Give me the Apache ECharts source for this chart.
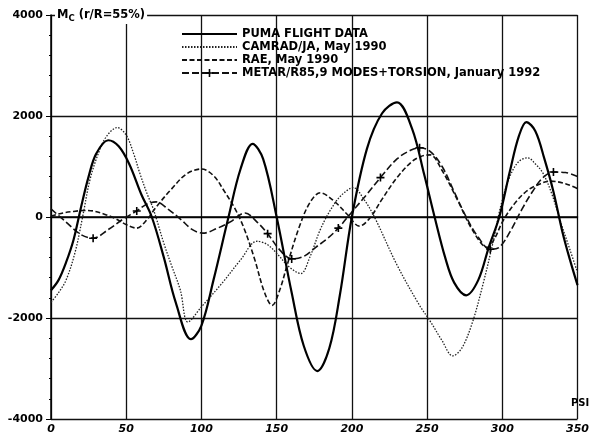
<!DOCTYPE html>
<html><head><meta charset="utf-8">
<script src="https://cdn.jsdelivr.net/npm/echarts@6/dist/echarts.min.js"></script>
<style>html,body{margin:0;padding:0;background:#fff}#c{width:592px;height:441px}</style>
</head><body><div id="c"></div>
<script>
// ---- data (PSI in degrees, Mc values) ----
const seriesNames = ['PUMA FLIGHT DATA', 'CAMRAD/JA, May 1990', 'RAE, May 1990', 'METAR/R85,9 MODES+TORSION, January 1992'];

const pumaPsi = [0,5,10,15,20,25,30,38,45,52,60,67,75,83,93,100,108,118,126,134,141,150,160,168,177,185,192,200,210,220,230,240,248,255,262,268,276,284,291,298,305,311,316,322,328,334,340,345,350];
const pumaMc  = [-1450,-1250,-900,-450,200,800,1250,1520,1400,1050,450,0,-800,-1700,-2420,-2150,-1250,0,950,1450,1150,0,-1500,-2550,-3050,-2600,-1550,0,1350,2050,2270,1750,850,0,-800,-1300,-1550,-1250,-600,0,900,1600,1880,1700,1150,500,-300,-850,-1350];

const camradPsi = [0,5,10,16,21,26,32,37,44,50,55,59,64,68,75,80,86,91,100,114,126,137,144,151,158,166,172,179,186,193,201,208,215,230,245,252,260,267,273,280,287,294,299,305,311,317,322,327,333,339,345,350];
const camradMc  = [-1690,-1500,-1250,-700,0,750,1300,1600,1770,1620,1250,870,450,160,-520,-950,-1450,-2080,-1780,-1300,-850,-480,-550,-750,-980,-1120,-800,-250,150,430,580,350,0,-950,-1750,-2060,-2450,-2750,-2600,-2100,-1350,-480,220,800,1100,1170,1050,870,450,-120,-650,-1100];

const raePsi = [0,8,15,22,28,35,42,50,57,63,70,80,90,100,108,115,122,128,135,142,147,152,157,165,172,179,188,197,205,212,220,230,240,246,252,260,270,280,290,295,300,308,316,323,332,342,350];
const raeMc  = [20,80,110,130,120,60,-20,-150,-220,-80,200,550,850,950,820,520,180,-200,-800,-1500,-1750,-1450,-950,-200,280,480,320,50,-180,-20,350,780,1100,1200,1230,920,350,-250,-600,-420,-100,260,510,630,710,660,560];

const metarPsi = [0,10,20,28,38,48,57,64,70,78,86,94,101,110,119,129,137,144,152,160,168,176,184,191,200,210,219,230,239,245,252,260,268,276,284,292,298,305,313,320,327,334,342,350];
const metarMc  = [160,-100,-350,-420,-250,-40,120,260,300,150,-40,-250,-320,-230,-100,80,-100,-330,-650,-830,-780,-600,-420,-220,100,450,780,1150,1320,1370,1300,1000,500,0,-400,-640,-600,-300,150,500,780,890,880,800];
const metarMarkedPsi = [28,57,144,160,191,219,245,292,334];

const xTicks = [0,50,100,150,200,250,300,350];
const yTicks = [-4000,-2000,0,2000,4000];

// ---- build ----
const pairs = (xs, ys) => xs.map((x, i) => [x, ys[i]]);
const plusPath = 'path://M4,0h2v4h4v2h-4v4h-2v-4h-4v-2h4z';
const metarData = metarPsi.map((x, i) => {
  const item = { value: [x, metarMc[i]] };
  if (metarMarkedPsi.indexOf(x) < 0) item.symbol = 'none';
  return item;
});

const FONT = 'DejaVu Sans';
const chart = echarts.init(document.getElementById('c'), null, { renderer: 'canvas' });
chart.setOption({
  animation: false,
  backgroundColor: '#fff',
  grid: { left: 51, right: 14, top: 15, bottom: 22, containLabel: false },
  xAxis: {
    type: 'value', min: xTicks[0], max: xTicks[xTicks.length - 1], interval: 50,
    axisLine: { lineStyle: { color: '#000', width: 1.5 } },
    axisTick: { show: true, length: 3, lineStyle: { color: '#000' } },
    axisLabel: { color: '#000', fontFamily: FONT, fontSize: 11, fontWeight: 'bold', fontStyle: 'italic', margin: 5,
      formatter: v => String(v) },
    splitLine: { show: true, lineStyle: { color: '#111', width: 1.3 } }
  },
  yAxis: {
    type: 'value', min: yTicks[0], max: yTicks[yTicks.length - 1], interval: 2000,
    axisLine: { show: true, lineStyle: { color: '#000', width: 1.5 } },
    axisTick: { show: true, length: 5, lineStyle: { color: '#000' } },
    minorTick: { show: true, splitNumber: 5, length: 2, lineStyle: { color: '#000' } },
    axisLabel: { color: '#000', fontFamily: FONT, fontSize: 11, fontWeight: 'bold', margin: 8,
      formatter: v => (v < 0 ? '-' : '') + Math.abs(v) },
    splitLine: { show: true, lineStyle: { color: '#111', width: 1.3 } }
  },
  legend: {
    orient: 'vertical', left: 176, top: 26, itemWidth: 55, itemHeight: 10, itemGap: 1, padding: [2, 5, 2, 5],
    textStyle: { fontFamily: FONT, fontWeight: 'bold', fontSize: 11.5, color: '#000', lineHeight: 12, padding: [0, 0, 0, 0] },
    data: [
      { name: seriesNames[0], itemStyle: { opacity: 0 } },
      { name: seriesNames[1], itemStyle: { opacity: 0 } },
      { name: seriesNames[2], itemStyle: { opacity: 0 } },
      { name: seriesNames[3] }
    ]
  },
  graphic: [
    { type: 'text', left: 55, top: 7, z: 100,
      style: { text: 'M{s|C} (r/R=55%)', fill: '#000', font: 'bold 11.5px "DejaVu Sans"', backgroundColor: '#fff', padding: [1, 2, 1, 2],
        rich: { s: { fontSize: 8.5, fontWeight: 'bold', fontFamily: FONT, verticalAlign: 'bottom', padding: [6, 0, 0, 0] } } } },
    { type: 'text', left: 571, top: 398, z: 100,
      style: { text: 'PSI', fill: '#000', font: 'bold 10px "DejaVu Sans"' } }
  ],
  series: [
    { name: seriesNames[0], type: 'line', data: pairs(pumaPsi, pumaMc), smooth: 0.35, symbol: 'none', z: 5,
      lineStyle: { color: '#000', width: 2.2, type: 'solid' }, itemStyle: { color: '#000' } },
    { name: seriesNames[1], type: 'line', data: pairs(camradPsi, camradMc), smooth: 0.35, symbol: 'none', z: 4,
      lineStyle: { color: '#222', width: 1.3, type: [1.5, 1.5] }, itemStyle: { color: '#222' } },
    { name: seriesNames[2], type: 'line', data: pairs(raePsi, raeMc), smooth: 0.35, symbol: 'none', z: 3,
      lineStyle: { color: '#111', width: 1.6, type: [5, 2.5] }, itemStyle: { color: '#111' } },
    { name: seriesNames[3], type: 'line', data: metarData, smooth: 0.35, symbol: plusPath, symbolSize: 8, showSymbol: true, z: 3,
      lineStyle: { color: '#111', width: 1.6, type: [7, 3] }, itemStyle: { color: '#000' } }
  ]
});
</script>
</body></html>
